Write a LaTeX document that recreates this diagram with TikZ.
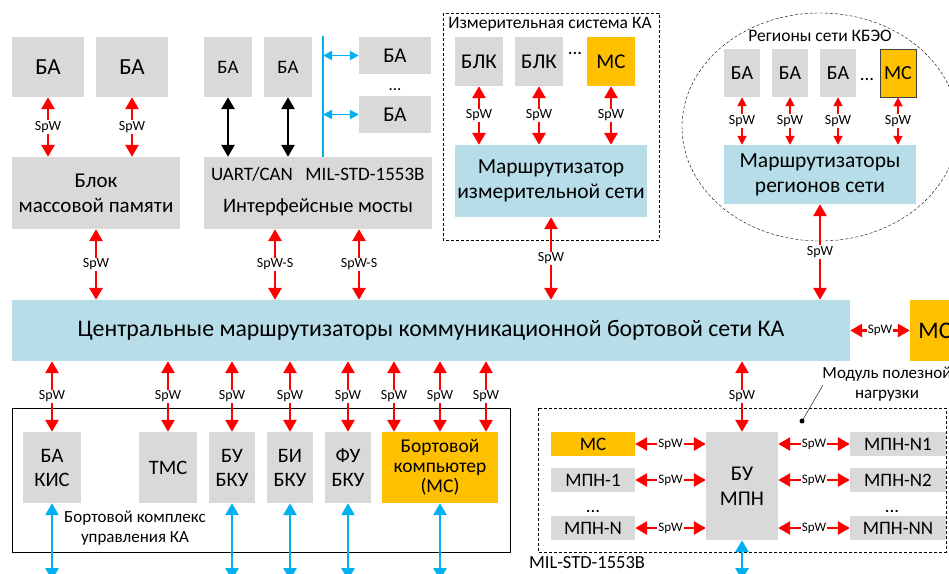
\documentclass[tikz,border=0pt]{standalone}
\usepackage{fontspec}
\setmainfont{Carlito}
\usetikzlibrary{arrows.meta}
\definecolor{boxgray}{HTML}{D9D9D9}
\definecolor{netblue}{HTML}{B7DDE8}
\definecolor{msorange}{HTML}{FFC000}
\definecolor{busblue}{HTML}{00B0F0}
\newcommand{\fsz}[2]{\fontsize{#1}{#2}\selectfont}

\begin{document}
\begin{tikzpicture}[x=1pt,y=-1pt,
    box/.style={fill=boxgray, inner sep=0pt, align=center},
    spw/.style={red, line width=2.8pt, {Triangle[length=12pt,width=13pt]}-{Triangle[length=12pt,width=13pt]}},
    spwsmall/.style={red, line width=1.8pt, {Triangle[length=9pt,width=9pt]}-{Triangle[length=9pt,width=9pt]}},
    busarrow/.style={busblue, line width=2.8pt, {Triangle[length=12pt,width=13pt]}-{Triangle[length=12pt,width=13pt]}},
    lbl/.style={fill=white, text=black, inner sep=1pt, font=\fsz{14}{14}}]
    \clip (0,0) rectangle (949,573);
    \coordinate (bot) at (0,580);

    \node[box, minimum width=72, minimum height=60, font=\fsz{23}{25}] (ba1) at (48,67) {БА};
    \node[box, minimum width=72, minimum height=60, font=\fsz{23}{25}] (ba2) at (132,67) {БА};
    \node[box, minimum width=168, minimum height=72, font=\fsz{21}{25}] (mem) at (96,193) {Блок\\массовой памяти};
    \draw[spw] (ba1.south) -- (ba1.south |- mem.north) node[lbl,midway] {SpW};
    \draw[spw] (ba2.south) -- (ba2.south |- mem.north) node[lbl,midway] {SpW};

    \node[box, minimum width=48, minimum height=60, font=\fsz{19}{21}] (ba3) at (228,67) {БА};
    \node[box, minimum width=48, minimum height=60, font=\fsz{19}{21}] (ba4) at (288,67) {БА};
    \node[box, minimum width=228, minimum height=72] (bridge) at (318,193) {};
    \node[font=\fsz{19}{20}] (uart) at (252,174) {UART/CAN};
    \node[font=\fsz{19}{20}] (mil) at (365,174) {MIL-STD-1553B};
    \node[font=\fsz{20.5}{21}] (bridgetext) at (318,207) {Интерфейсные мосты};
    \draw[line width=2.8pt, {Triangle[length=12pt,width=13pt]}-{Triangle[length=12pt,width=13pt]}] (ba3.south) -- (ba3.south |- bridge.north);
    \draw[line width=2.8pt, {Triangle[length=12pt,width=13pt]}-{Triangle[length=12pt,width=13pt]}] (ba4.south) -- (ba4.south |- bridge.north);
    \node[box, minimum width=72, minimum height=37, font=\fsz{21}{22}] (ba5) at (395,55.5) {БА};
    \node[box, minimum width=72, minimum height=37, font=\fsz{21}{22}] (ba6) at (395,114.5) {БА};
    \node[font=\fsz{17}{17}] (dots1) at (395,90) {...};
    \coordinate (busT) at (323,36);
    \draw[busblue, line width=2.6pt] (busT) -- (busT |- bridge.north);
    \draw[busblue, line width=1.8pt, {Triangle[length=9pt,width=9pt]}-{Triangle[length=9pt,width=9pt]}] (busT |- ba5.west) -- (ba5.west);
    \draw[busblue, line width=1.8pt, {Triangle[length=9pt,width=9pt]}-{Triangle[length=9pt,width=9pt]}] (busT |- ba6.west) -- (ba6.west);

    \draw[densely dashed] (443,13) rectangle (659,240);
    \node[font=\fsz{17.5}{18}] (meastitle) at (550,24) {Измерительная система КА};
    \node[box, minimum width=48, minimum height=49, font=\fsz{21}{22}] (blk1) at (479,61.5) {БЛК};
    \node[box, minimum width=48, minimum height=49, font=\fsz{21}{22}] (blk2) at (539,61.5) {БЛК};
    \node[font=\fsz{19}{19}] (dots2) at (575,53) {...};
    \node[box, fill=msorange, minimum width=48, minimum height=49, font=\fsz{21}{22}] (ms1) at (611,61.5) {МС};
    \node[box, fill=netblue, minimum width=192, minimum height=72, font=\fsz{21.5}{25}] (mrouter) at (551,181) {Маршрутизатор\\измерительной сети};
    \draw[spw] (blk1.south) -- (blk1.south |- mrouter.north) node[lbl,midway] {SpW};
    \draw[spw] (blk2.south) -- (blk2.south |- mrouter.north) node[lbl,midway] {SpW};
    \draw[spw] (ms1.south) -- (ms1.south |- mrouter.north) node[lbl,midway] {SpW};

    \draw[densely dashed] (820,127) ellipse [x radius=138, y radius=114];
    \node[font=\fsz{17.5}{18}] (regtitle) at (820,36) {Регионы сети КБЭО};
    \node[box, minimum width=36, minimum height=48, font=\fsz{20}{21}] (eba1) at (742,73) {БА};
    \node[box, minimum width=36, minimum height=48, font=\fsz{20}{21}] (eba2) at (790,73) {БА};
    \node[box, minimum width=36, minimum height=48, font=\fsz{20}{21}] (eba3) at (838,73) {БА};
    \node[font=\fsz{19}{19}] (dots3) at (867,79) {...};
    \node[box, fill=msorange, draw=black!75, line width=0.8pt, minimum width=36, minimum height=48, font=\fsz{20}{21}] (ems) at (898,73) {МС};
    \node[box, fill=netblue, minimum width=192, minimum height=59, font=\fsz{21.5}{25}] (rrouter) at (820,174.5) {Маршрутизаторы\\регионов сети};
    \draw[spwsmall] (eba1.south) -- (eba1.south |- rrouter.north) node[lbl,midway] {SpW};
    \draw[spwsmall] (eba2.south) -- (eba2.south |- rrouter.north) node[lbl,midway] {SpW};
    \draw[spwsmall] (eba3.south) -- (eba3.south |- rrouter.north) node[lbl,midway] {SpW};
    \draw[spwsmall] (ems.south) -- (ems.south |- rrouter.north) node[lbl,midway] {SpW};

    \node[box, fill=netblue, minimum width=838, minimum height=61, font=\fsz{23.8}{25}] (bar) at (431,330.5) {Центральные маршрутизаторы коммуникационной бортовой сети КА};
    \node[box, fill=msorange, minimum width=50, minimum height=61, font=\fsz{23.8}{25}] (msr) at (935,330.5) {МС};
    \draw[spw] (bar.east) -- (msr.west) node[lbl,midway,font=\fsz{13}{13}] {SpW};
    \draw[spw] (mem.south) -- (mem.south |- bar.north) node[lbl,midway] {SpW};
    \draw[spw] (bridge.south -| 275,0) -- (bar.north -| 275,0) node[lbl,midway] {SpW-S};
    \draw[spw] (bridge.south -| 359,0) -- (bar.north -| 359,0) node[lbl,midway] {SpW-S};
    \draw[spw] (mrouter.south) -- (mrouter.south |- bar.north) node[lbl,midway] {SpW};
    \draw[spw] (rrouter.south) -- (rrouter.south |- bar.north) node[lbl,midway] {SpW};

    \draw (12,408) rectangle (510,552);
    \node[box, minimum width=58, minimum height=71, font=\fsz{20.5}{24}] (bakis) at (52,467.5) {БА\\КИС};
    \node[box, minimum width=58, minimum height=71, font=\fsz{20.5}{24}] (tms) at (168,467.5) {ТМС};
    \node[box, minimum width=46, minimum height=71, font=\fsz{20.5}{24}] (buku) at (232,467.5) {БУ\\БКУ};
    \node[box, minimum width=46, minimum height=71, font=\fsz{20.5}{24}] (biku) at (290,467.5) {БИ\\БКУ};
    \node[box, minimum width=46, minimum height=71, font=\fsz{20.5}{24}] (fuku) at (348,467.5) {ФУ\\БКУ};
    \node[box, fill=msorange, minimum width=116, minimum height=71, font=\fsz{19.5}{20}] (bc) at (440,467.5) {Бортовой\\компьютер\\(МС)};
    \node[font=\fsz{17}{20}, align=center] (bkutext) at (135,528) {Бортовой комплекс\\управления КА};
    \draw[spw] (bakis.north |- bar.south) -- (bakis.north) node[lbl,midway] {SpW};
    \draw[spw] (tms.north |- bar.south) -- (tms.north) node[lbl,midway] {SpW};
    \draw[spw] (buku.north |- bar.south) -- (buku.north) node[lbl,midway] {SpW};
    \draw[spw] (biku.north |- bar.south) -- (biku.north) node[lbl,midway] {SpW};
    \draw[spw] (fuku.north |- bar.south) -- (fuku.north) node[lbl,midway] {SpW};
    \draw[spw] ([xshift=-46pt]bc.north |- bar.south) -- ([xshift=-46pt]bc.north) node[lbl,midway] {SpW};
    \draw[spw] (bc.north |- bar.south) -- (bc.north) node[lbl,midway] {SpW};
    \draw[spw] ([xshift=46pt]bc.north |- bar.south) -- ([xshift=46pt]bc.north) node[lbl,midway] {SpW};
    \draw[busarrow] (bakis.south) -- (bakis.south |- bot);
    \draw[busarrow] (buku.south) -- (buku.south |- bot);
    \draw[busarrow] (biku.south) -- (biku.south |- bot);
    \draw[busarrow] (fuku.south) -- (fuku.south |- bot);
    \draw[busarrow] (bc.south) -- (bc.south |- bot);

    \draw[densely dashed] (538,408) rectangle (946,552);
    \node[box, fill=msorange, minimum width=84, minimum height=24, font=\fsz{19}{20}] (pms) at (593,444) {МС};
    \node[box, minimum width=84, minimum height=24, font=\fsz{19}{20}] (mpn1) at (593,480) {МПН-1};
    \node[font=\fsz{19}{19}] (dots4) at (593,511) {...};
    \node[box, minimum width=84, minimum height=24, font=\fsz{19}{20}] (mpnn) at (593,528) {МПН-N};
    \node[box, minimum width=72, minimum height=108, font=\fsz{21}{25}] (bumpn) at (742,486) {БУ\\МПН};
    \node[box, minimum width=96, minimum height=24, font=\fsz{19}{20}] (n1) at (898,444) {МПН-N1};
    \node[box, minimum width=96, minimum height=24, font=\fsz{19}{20}] (n2) at (898,480) {МПН-N2};
    \node[font=\fsz{19}{19}] (dots5) at (892,511) {...};
    \node[box, minimum width=96, minimum height=24, font=\fsz{19}{20}] (nn) at (898,528) {МПН-NN};
    \draw[spw] (pms.east) -- (pms.east -| bumpn.west) node[lbl,midway,font=\fsz{13}{13}] {SpW};
    \draw[spw] (mpn1.east) -- (mpn1.east -| bumpn.west) node[lbl,midway,font=\fsz{13}{13}] {SpW};
    \draw[spw] (mpnn.east) -- (mpnn.east -| bumpn.west) node[lbl,midway,font=\fsz{13}{13}] {SpW};
    \draw[spw] (n1.west -| bumpn.east) -- (n1.west) node[lbl,midway,font=\fsz{13}{13}] {SpW};
    \draw[spw] (n2.west -| bumpn.east) -- (n2.west) node[lbl,midway,font=\fsz{13}{13}] {SpW};
    \draw[spw] (nn.west -| bumpn.east) -- (nn.west) node[lbl,midway,font=\fsz{13}{13}] {SpW};
    \draw[spw] (bumpn.north |- bar.south) -- (bumpn.north) node[lbl,midway] {SpW};
    \draw[busarrow] (bumpn.south) -- (bumpn.south |- bot);
    \node[font=\fsz{17}{20}, align=center] (pltext) at (887,384) {Модуль полезной\\нагрузки};
    \coordinate (pldot) at (802,421);
    \fill (pldot) circle (2.5);
    \draw (pldot) -- (823,385);
    \node[font=\fsz{18.5}{18}] (miltext) at (587,563) {MIL-STD-1553B};
\end{tikzpicture}
\end{document}
